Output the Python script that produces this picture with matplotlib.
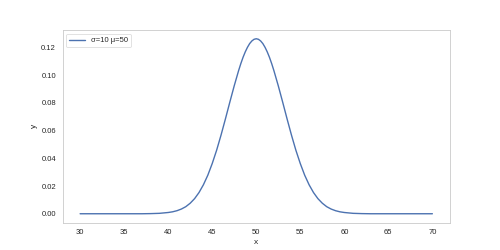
import matplotlib
matplotlib.use("Agg")
import matplotlib.pyplot as plt
import seaborn as sns

# values
x_vals = [30, 31, 32, 33, 34, 35, 36, 37, 38, 39, 40, 40.5, 41, 41.5, 42,
          42.5, 43, 43.5, 44, 44.5, 45, 45.5, 46, 46.5, 47, 47.5, 48, 48.25,
          48.5, 48.75, 49, 49.25, 49.5, 49.75, 50, 50.25, 50.5, 50.75, 51,
          51.25, 51.5, 51.75, 52, 52.5, 53, 53.5, 54, 54.5, 55, 55.5, 56,
          56.5, 57, 57.5, 58, 58.5, 59, 59.5, 60, 61, 62, 63, 64, 65, 66, 67,
          68, 69, 70]
y_vals = [0.0000, 0.0000, 0.0000, 0.0000, 0.0000, 0.0000, 0.0000, 0.0000,
          0.0001, 0.0003, 0.0009, 0.0014, 0.0022, 0.0034, 0.0051, 0.0076,
          0.0109, 0.0153, 0.0209, 0.0278, 0.0362, 0.0458, 0.0567, 0.0684,
          0.0805, 0.0923, 0.1033, 0.1083, 0.1128, 0.1167, 0.1200, 0.1227,
          0.1246, 0.1258, 0.1262, 0.1258, 0.1246, 0.1227, 0.1200, 0.1167,
          0.1128, 0.1083, 0.1033, 0.0923, 0.0805, 0.0684, 0.0567, 0.0458,
          0.0362, 0.0278, 0.0209, 0.0153, 0.0109, 0.0076, 0.0051, 0.0034,
          0.0022, 0.0014, 0.0009, 0.0003, 0.0001, 0.0000, 0.0000, 0.0000,
          0.0000, 0.0000, 0.0000, 0.0000, 0.0000]
label = "σ=10 μ=50"

sns.set_theme(style="whitegrid", context="notebook")
plt.rcParams['font.family'] = ['Liberation Sans', 'DejaVu Sans']

fig, ax = plt.subplots(figsize=(10, 5), dpi=50)
ax.plot(x_vals, y_vals, color="#4c72b0", linewidth=2, label=label)
ax.grid(False)
ax.set_xlabel("x")
ax.set_ylabel("y")
ax.legend(loc="upper left")
fig.savefig("out.png", dpi=50)
